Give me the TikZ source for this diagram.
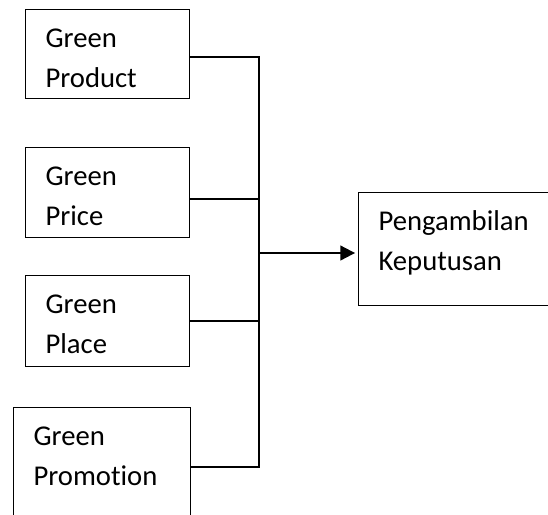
\documentclass[tikz,border=0pt]{standalone}
\usepackage{fontspec}
\setmainfont{Carlito}[Ligatures=NoCommon]
\usetikzlibrary{arrows.meta}
\tikzset{
    factor/.style={draw, line width=0.8pt, rectangle, anchor=north west, align=left,
        inner xsep=15pt, inner ysep=0pt, text height=28.5pt,
        font=\fontsize{21.5}{30}\selectfont},
    link/.style={line width=1.5pt},
}
\begin{document}
\begin{tikzpicture}[x=0.75pt, y=-0.75pt]
            \path[use as bounding box, clip] (0,0) rectangle (548,514);
            \node[factor, text width=93pt, text depth=38.25pt] (product) at (25,9) {Green\\Product};
            \node[factor, text width=93pt, text depth=39pt] (price) at (25,147) {Green\\Price};
            \node[factor, text width=93pt, text depth=39.75pt] (place) at (25,275) {Green\\Place};
            \node[factor, text width=103pt, text depth=60pt] (promotion) at (13,407) {Green\\Promotion};
            \node[factor, text width=120pt, text depth=56.25pt] (decision) at (358,192) {Pengambilan\\Keputusan};
            \coordinate (j1) at (259,57);
            \coordinate (j2) at (259,199);
            \coordinate (j3) at (259,321);
            \coordinate (j4) at (259,467);
            \coordinate (hub) at (259,253);
            \draw[link] (product.east |- j1) -- (j1) -- (j4) -- (promotion.east |- j4);
            \draw[link] (price.east |- j2) -- (j2);
            \draw[link] (place.east |- j3) -- (j3);
            \draw[link, -{Triangle[length=11pt, width=11pt]}, shorten >=2.2pt] (hub) -- (hub -| decision.west);
        \end{tikzpicture}
\end{document}
